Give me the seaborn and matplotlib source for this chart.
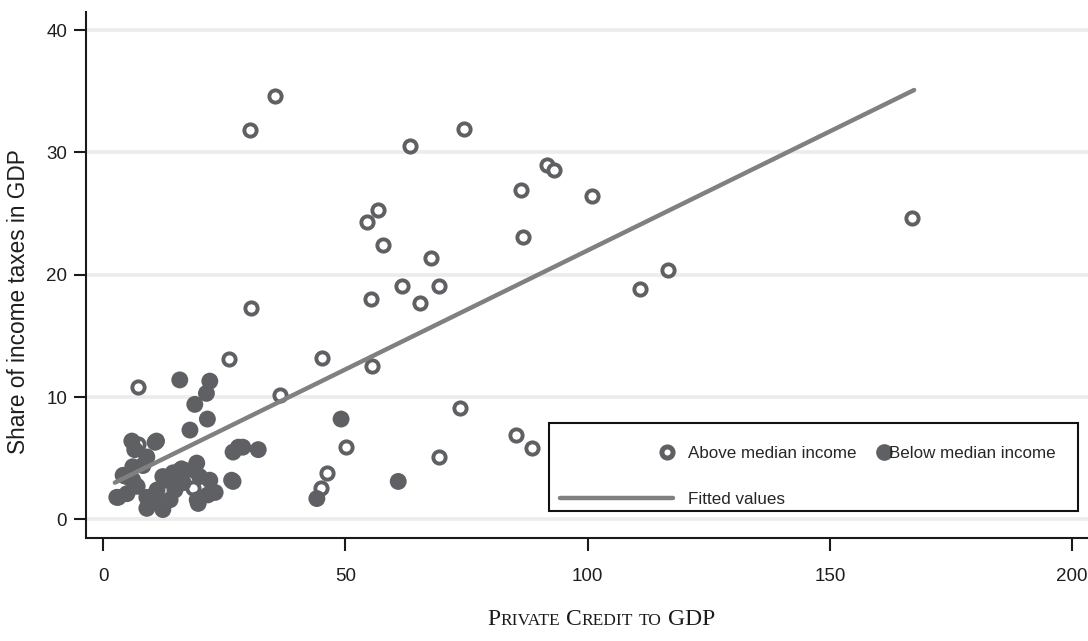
import numpy as np
import pandas as pd
import seaborn as sns
import matplotlib.pyplot as plt
from matplotlib.lines import Line2D
from matplotlib.patches import Rectangle
from matplotlib.legend_handler import HandlerLine2D

# Above median income (hollow markers)
above_credit = [35.4, 30.4, 74.5, 63.3, 91.6, 93.1, 86.3, 100.9, 56.7, 54.4,
                86.7, 57.8, 67.7, 61.7, 69.3, 55.3, 65.4, 166.9, 116.6, 110.8,
                30.5, 26.0, 45.2, 55.5, 36.5, 7.2, 73.7, 85.2, 88.5, 50.1,
                69.3, 46.2, 44.9, 7.2, 18.5, 16.0]
above_tax = [34.6, 31.8, 31.9, 30.5, 29.0, 28.6, 26.9, 26.4, 25.3, 24.3,
             23.1, 22.4, 21.4, 19.1, 19.1, 18.0, 17.7, 24.6, 20.4, 18.8,
             17.3, 13.1, 13.2, 12.5, 10.2, 10.8, 9.1, 6.9, 5.8, 5.9,
             5.1, 3.8, 2.6, 6.2, 2.6, 4.2]

# Below median income (filled markers)
below_credit = [15.8, 22.0, 21.3, 18.9, 21.5, 17.9, 11.0, 5.9, 6.5, 9.0,
                27.9, 32.0, 26.8, 19.3, 22.0, 26.5, 18.9, 3.1, 4.8, 10.7,
                4.1, 2.8, 4.9, 7.0, 9.0, 9.0, 12.3, 11.1, 13.2, 14.4,
                15.8, 13.8, 12.3, 19.4, 21.6, 6.1, 8.2, 6.1, 16.5, 19.9,
                23.1, 19.6, 10.7, 16.9, 14.8, 49.1, 60.9, 44.1, 26.8, 28.8]
below_tax = [11.4, 11.3, 10.3, 9.4, 8.2, 7.3, 6.4, 6.4, 5.7, 5.1,
             5.9, 5.7, 5.5, 4.6, 3.2, 3.2, 4.0, 1.8, 3.5, 6.3,
             3.6, 1.8, 2.1, 2.7, 1.8, 0.9, 0.8, 2.4, 3.2, 3.8,
             4.0, 1.6, 3.5, 1.6, 2.0, 4.3, 4.4, 3.2, 3.0, 3.5,
             2.2, 1.3, 1.6, 4.0, 2.4, 8.2, 3.1, 1.7, 3.1, 5.9]

# Fitted values line (end points)
fit_credit = [2.4, 167.4]
fit_tax = [3.0, 35.1]

xticks = [0, 50, 100, 150, 200]
yticks = [0, 10, 20, 30, 40]

sns.set_style('ticks')
plt.rcParams['font.family'] = ['Liberation Sans', 'DejaVu Sans']

dark = '#5f6063'
line_c = '#808080'

df_above = pd.DataFrame({'credit': above_credit, 'tax': above_tax})
df_below = pd.DataFrame({'credit': below_credit, 'tax': below_tax})
df_fit = pd.DataFrame({'credit': fit_credit, 'tax': fit_tax})

fig = plt.figure(figsize=(10.88, 6.41), dpi=100)
ax = fig.add_axes([0.0790, 0.1602, 0.9210, 0.8215])

sns.scatterplot(data=df_above, x='credit', y='tax', marker='o', s=78,
                facecolor='white', edgecolor=dark, linewidth=2.8, ax=ax, zorder=3)
sns.scatterplot(data=df_below, x='credit', y='tax', marker='o', s=148,
                facecolor=dark, edgecolor='none', linewidth=0, ax=ax, zorder=3)
sns.lineplot(data=df_fit, x='credit', y='tax', color=line_c, lw=3.2, ax=ax, zorder=4)

ax.set_xlim(-3.57, 203.3)
ax.set_ylim(-1.55, 41.5)
ax.set_xticks(xticks)
ax.set_yticks(yticks)
ax.yaxis.grid(True, color='#ececec', lw=2.6)
ax.xaxis.grid(False)
ax.set_axisbelow(True)
for side in ['top', 'right']:
    ax.spines[side].set_visible(False)
for side in ['left', 'bottom']:
    ax.spines[side].set_linewidth(1.5)
    ax.spines[side].set_color('#1a1a1a')
ax.tick_params(axis='both', labelsize=13.5, length=9, width=1.5, color='#1a1a1a',
               labelcolor='#1e1e1e', direction='out')
ax.tick_params(axis='x', pad=12.5)
ax.tick_params(axis='y', pad=4.5)

ax.set_xlabel('')
ax.set_ylabel('Share of income taxes in GDP', fontsize=16.3, color='#1e1e1e')
ax.yaxis.set_label_coords(-0.0562, 0.4497)


# legend: marker keys sit at the right of the key area (Stata style)
class MarkerAt(HandlerLine2D):
    def __init__(self, shift, **kw):
        super().__init__(**kw)
        self.shift = shift

    def get_xdata(self, legend, xdescent, ydescent, width, height, fontsize):
        x = -xdescent + width + self.shift * fontsize
        return [x, x], [x]


h_above = Line2D([], [], ls='none', marker='o', markersize=8, markerfacecolor='white',
                 markeredgecolor=dark, markeredgewidth=3.6)
h_below = Line2D([], [], ls='none', marker='o', markersize=12, markerfacecolor=dark,
                 markeredgecolor='none')
h_fit = Line2D([], [], color=line_c, lw=3.2)

ax.add_patch(Rectangle((0.4621, 0.0513), 0.5279, 0.1677, transform=ax.transAxes,
                       facecolor='white', edgecolor='#111111', lw=1.5, zorder=5))
ax.legend(handles=[h_above, h_fit, h_below],
          labels=['Above median income', 'Fitted values', 'Below median income'],
          ncol=2, loc='upper left', bbox_to_anchor=(0.4731, 0.1760),
          borderaxespad=0, borderpad=0, frameon=False, fontsize=12.25,
          handlelength=6.63, handletextpad=0.92, columnspacing=-5.65,
          labelspacing=1.84,
          handler_map={h_above: MarkerAt(-0.35), h_below: MarkerAt(0.62)}).set_zorder(6)

# x label in small caps, built from pieces
fig.canvas.draw()
renderer = fig.canvas.get_renderer()
big, small, gap = 17, 12.5, 6
pieces = [('P', big), ('RIVATE', small), (None, gap), ('C', big), ('REDIT', small),
          (None, gap), ('TO', small), (None, gap), ('GDP', big)]
W, H = fig.get_size_inches() * fig.dpi
base_y = 1 - 625 / H
items = []
for s, size in pieces:
    if s is None:
        items.append((None, size))
        continue
    t = fig.text(0, base_y, s, fontsize=size, family=['Liberation Serif', 'DejaVu Serif'],
                 va='baseline', ha='left', color='#1a1a1a')
    items.append((t, t.get_window_extent(renderer).width))
total = sum(w for _, w in items)
x0 = 601 - total / 2
for t, w in items:
    if t is not None:
        t.set_x(x0 / W)
    x0 += w

fig.savefig('out.png', dpi=100)
